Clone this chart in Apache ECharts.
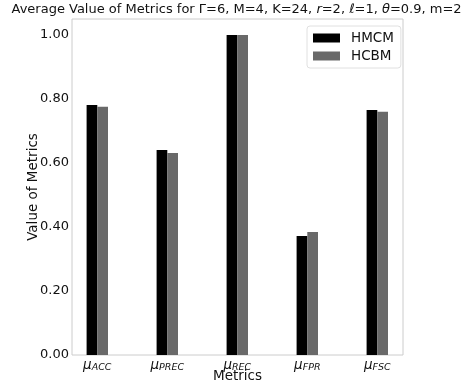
<!DOCTYPE html>
<html><head><meta charset="utf-8">
<script src="https://cdn.jsdelivr.net/npm/echarts@6/dist/echarts.min.js"></script>
<style>html,body{margin:0;padding:0;background:#fff}#c{width:463px;height:386px}</style>
</head><body><div id="c"></div>
<script>
const categories = ['ACC', 'PREC', 'REC', 'FPR', 'FSC'];
const hmcm = [0.781, 0.641, 1.000, 0.372, 0.766];
const hcbm = [0.776, 0.631, 1.000, 0.384, 0.760];
const seriesNames = ['HMCM', 'HCBM'];
const yTicks = [0, 0.2, 0.4, 0.6, 0.8, 1.0];

const F = 'DejaVu Sans';
const FS = 13;
const chart = echarts.init(document.getElementById('c'));
chart.setOption({
  animation: false,
  backgroundColor: '#fff',
  title: {
    text: '{n|Average Value of Metrics for Γ=6, M=4, K=24, }{i|r}{n|=2, }{i|ℓ}{n|=1, }{i|θ}{n|=0.9, m=2}',
    left: 11.5, top: 3, padding: 0,
    textStyle: {
      fontWeight: 'normal',
      rich: {
        n: {fontFamily: F, fontSize: FS, fontWeight: 'normal', color: '#111'},
        i: {fontFamily: F, fontSize: FS, fontWeight: 'normal', fontStyle: 'italic', color: '#111'}
      }
    }
  },
  legend: {
    orient: 'vertical', left: 307, top: 26,
    padding: [5, 7, 5, 6],
    itemWidth: 27, itemHeight: 9, itemGap: 4,
    borderColor: '#e0e0e0', borderWidth: 1, borderRadius: 3,
    icon: 'rect',
    textStyle: {fontFamily: F, fontSize: 13.5, color: '#111', padding: [0, 0, 0, 6]},
    data: seriesNames
  },
  grid: [
    {left: 72, right: 60, top: 19, bottom: 31, show: true, borderColor: '#cccccc', borderWidth: 1, outerBoundsMode: 'none', containLabel: false},
    {left: 62.3, right: 50.7, top: 19, bottom: 31, show: false, outerBoundsMode: 'none', containLabel: false}
  ],
  xAxis: [
    {
      type: 'value', gridIndex: 0, min: 0, max: 1,
      name: 'Metrics', nameLocation: 'middle', nameGap: 14, nameMoveOverlap: false,
      nameTextStyle: {fontFamily: F, fontSize: 13.5, color: '#111'},
      axisLine: {show: false}, axisTick: {show: false}, splitLine: {show: false},
      axisLabel: {show: false}
    },
    {
      type: 'category', gridIndex: 1, data: categories,
      axisLine: {show: false}, axisTick: {show: false}, splitLine: {show: false},
      axisLabel: {
        margin: 3, interval: 0,
        formatter: function (v) { return '{m|μ}{s|' + v + '}'; },
        rich: {
          m: {fontFamily: F, fontSize: 13.5, fontStyle: 'italic', color: '#111'},
          s: {fontFamily: F, fontSize: 9.5, fontStyle: 'italic', color: '#111', padding: [5, 0, 0, 0]}
        }
      }
    }
  ],
  yAxis: [
    {
      type: 'value', gridIndex: 0, min: 0, max: 1.05, interval: 0.2,
      name: 'Value of Metrics', nameLocation: 'middle', nameGap: 32, nameRotate: 90, nameMoveOverlap: false,
      nameTextStyle: {fontFamily: F, fontSize: 13.5, color: '#111'},
      axisLine: {show: false}, axisTick: {show: false}, splitLine: {show: false},
      axisLabel: {
        showMaxLabel: false, margin: 3,
        fontFamily: F, fontSize: 13, color: '#111',
        formatter: function (v) {
          for (const t of yTicks) if (Math.abs(v - t) < 1e-6) return t.toFixed(2);
          return '';
        }
      }
    },
    {
      type: 'value', gridIndex: 1, min: 0, max: 1.05, show: false,
      axisLine: {show: false}, axisTick: {show: false}, splitLine: {show: false}, axisLabel: {show: false}
    }
  ],
  series: [
    {name: seriesNames[0], type: 'bar', xAxisIndex: 1, yAxisIndex: 1, barWidth: 10.7, barGap: '0%',
     itemStyle: {color: '#000000'}, data: hmcm},
    {name: seriesNames[1], type: 'bar', xAxisIndex: 1, yAxisIndex: 1, barWidth: 10.7, barGap: '0%',
     itemStyle: {color: '#696969'}, data: hcbm}
  ]
});
</script></body></html>
